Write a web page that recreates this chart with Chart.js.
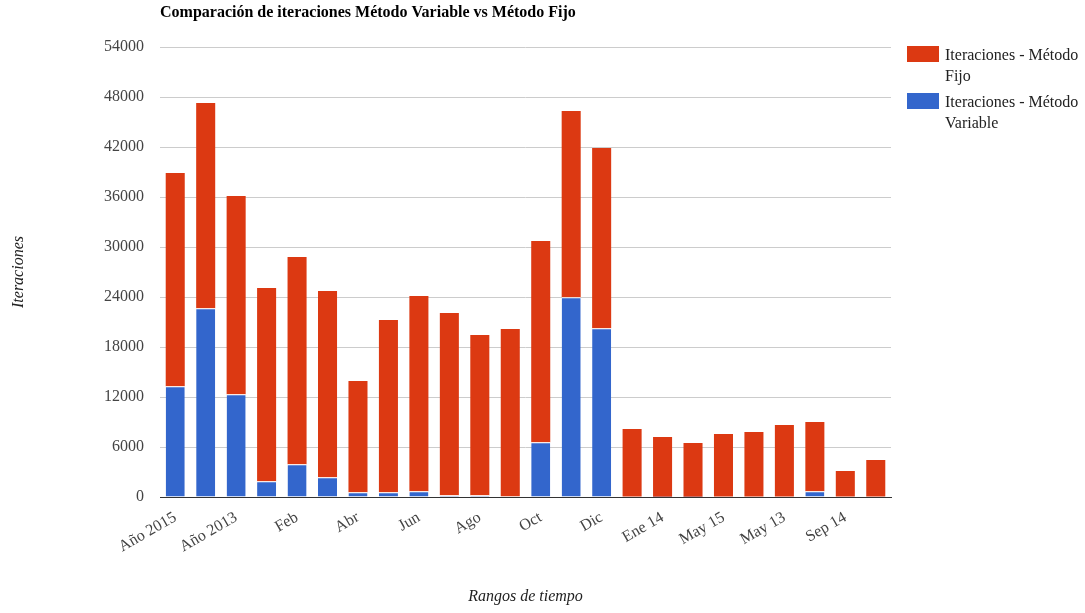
<!DOCTYPE html>
<html>
<head>
<meta charset="utf-8">
<script src="https://cdn.jsdelivr.net/npm/chart.js@4.4.1/dist/chart.umd.min.js"></script>
<style>
  body { margin: 0; background: #fff; }
  #wrap { position: relative; width: 1085px; height: 613px; }
  #legend { position: absolute; left: 907px; top: 44px; font-family: "Liberation Serif", serif; font-size: 16px; color: #222; }
  .item { display: flex; align-items: flex-start; margin-bottom: 5px; }
  .sw { width: 32px; height: 16px; margin-top: 2px; margin-right: 6px; flex: none; }
  .txt { width: 140px; line-height: 21px; }
</style>
</head>
<body>
<div id="wrap">
  <canvas id="chart" width="1085" height="613"></canvas>
  <div id="legend"></div>
</div>
<script>
// every other label is hidden in the original, those are left blank
const categories = ['Año 2015', '', 'Año 2013', '', 'Feb', '', 'Abr', '', 'Jun', '', 'Ago', '',
  'Oct', '', 'Dic', '', 'Ene 14', '', 'May 15', '', 'May 13', '', 'Sep 14', ''];

const variable = [13280, 22640, 12320, 1880, 3920, 2360, 560, 560, 680, 200, 200, 80,
  6560, 23960, 20240, 0, 40, 40, 0, 0, 0, 680, 0, 0];

const fijo = [25600, 24640, 23800, 23200, 24880, 22360, 13360, 20680, 23440, 21880, 19240, 20080,
  24160, 22360, 21640, 8160, 7160, 6440, 7560, 7800, 8640, 8320, 3120, 4440];

const yTicks = [0, 6000, 12000, 18000, 24000, 30000, 36000, 42000, 48000, 54000];

const titleText = 'Comparación de iteraciones Método Variable vs Método Fijo';
const serif = '"Liberation Serif", "Times New Roman", serif';

const titlePlugin = {
  id: 'leftTitle',
  afterDraw(chart) {
    const ctx = chart.ctx;
    ctx.save();
    ctx.font = 'bold 16px ' + serif;
    ctx.fillStyle = '#000';
    ctx.textBaseline = 'middle';
    ctx.fillText(titleText, chart.chartArea.left, 13);
    ctx.restore();
  }
};

const chart = new Chart(document.getElementById('chart'), {
  type: 'bar',
  data: {
    labels: categories,
    datasets: [
      {
        label: 'Iteraciones - Método Variable',
        data: variable,
        backgroundColor: '#3366cc',
        borderColor: '#ffffff',
        borderWidth: { top: 1, right: 0, bottom: 0, left: 0 },
        barPercentage: 0.625,
        categoryPercentage: 1
      },
      {
        label: 'Iteraciones - Método Fijo',
        data: fijo,
        backgroundColor: '#dc3912',
        borderWidth: 0,
        barPercentage: 0.625,
        categoryPercentage: 1
      }
    ]
  },
  options: {
    responsive: false,
    animation: false,
    layout: { padding: { top: 47, right: 194, bottom: 0, left: 0 } },
    plugins: {
      legend: { display: false },
      title: { display: false },
      tooltip: { enabled: false }
    },
    scales: {
      x: {
        stacked: true,
        grid: { display: false },
        border: { display: true, color: '#333333', width: 1 },
        ticks: {
          autoSkip: false,
          minRotation: 30,
          maxRotation: 30,
          padding: 3,
          color: '#444444',
          font: { family: serif, size: 16 }
        },
        title: {
          display: true,
          text: 'Rangos de tiempo',
          color: '#222222',
          font: { family: serif, size: 16, style: 'italic' },
          padding: { top: 0, bottom: 7 }
        },
        afterFit(scale) { scale.height = 116; }
      },
      y: {
        stacked: true,
        min: 0,
        max: 54000,
        afterBuildTicks(scale) { scale.ticks = yTicks.map(v => ({ value: v })); },
        grid: { color: '#cccccc', drawTicks: false },
        border: { display: false },
        ticks: {
          padding: 16,
          color: '#444444',
          font: { family: serif, size: 16 },
          callback: v => String(v)
        },
        title: {
          display: true,
          text: 'Iteraciones',
          color: '#222222',
          font: { family: serif, size: 16, style: 'italic' },
          padding: { top: 9, bottom: 0 }
        },
        afterFit(scale) { scale.width = 160; }
      }
    }
  },
  plugins: [titlePlugin]
});

// legend with wrapped text, top entry is the top of the stack
const legend = document.getElementById('legend');
chart.data.datasets.slice().reverse().forEach(ds => {
  const item = document.createElement('div');
  item.className = 'item';
  item.innerHTML = '<div class="sw" style="background:' + ds.backgroundColor + '"></div>' +
    '<div class="txt">' + ds.label + '</div>';
  legend.appendChild(item);
});
</script>
</body>
</html>
